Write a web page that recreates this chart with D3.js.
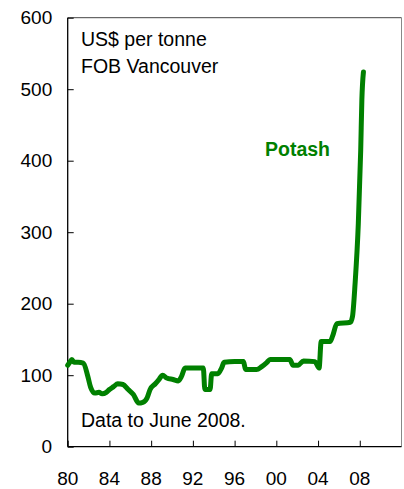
<!DOCTYPE html>
<html>
<head>
<meta charset="utf-8">
<script src="https://cdn.jsdelivr.net/npm/d3@7"></script>
<style>
  html, body { margin: 0; padding: 0; background: #fff; }
  svg { display: block; font-family: "Liberation Sans", Arial, sans-serif; }
  .tick-label { font-size: 19px; fill: #000; }
  .note { font-size: 19.5px; fill: #000; }
  .series-label { font-size: 19.5px; font-weight: bold; fill: #008000; }
</style>
</head>
<body>
<div id="chart"></div>
<script>
// Potash price, US$ per tonne, FOB Vancouver
const dates = [
  1980.0, 1980.2, 1980.4, 1980.6, 1981.0, 1981.5, 1981.9, 1982.2, 1982.6, 1983.0,
  1983.3, 1983.7, 1984.0, 1984.4, 1984.8, 1985.3, 1985.8, 1986.3, 1986.8, 1987.2,
  1987.6, 1987.9, 1988.4, 1988.7, 1989.1, 1989.5, 1990.1, 1990.6, 1990.9, 1991.25,
  1993.0, 1993.15, 1993.65, 1993.8, 1994.4, 1994.75, 1995.0, 1996.0, 1996.85, 1997.05,
  1998.1, 1998.6, 1999.1, 1999.4, 2001.3, 2001.6, 2002.1, 2002.6, 2003.7, 2004.1,
  2004.3, 2005.15, 2005.4, 2005.8, 2007.1, 2007.3, 2007.55, 2007.86, 2008.09, 2008.2,
  2008.35
];
const prices = [
  114, 118, 122, 118, 118, 117, 100, 83, 75, 76,
  74, 76, 80, 84, 88, 87, 80, 73, 61, 62,
  68, 80, 88, 93, 100, 96, 94, 92, 98, 110,
  110, 80, 80, 102, 102, 110, 118, 119, 119, 108,
  108, 112, 118, 122, 122, 114, 114, 120, 119, 110,
  147, 147, 155, 172, 174, 182, 228, 312, 415, 485,
  524
];
const xTickYears = [1980, 1984, 1988, 1992, 1996, 2000, 2004, 2008];
const xTickLabels = ["80", "84", "88", "92", "96", "00", "04", "08"];
const yTicks = [0, 100, 200, 300, 400, 500, 600];
const seriesName = "Potash";
const unitLines = ["US$ per tonne", "FOB Vancouver"];
const footNote = "Data to June 2008.";

const width = 404, height = 489;
const margin = { left: 67.7, right: 2.5, top: 17.7, bottom: 42.3 };
const innerW = width - margin.left - margin.right;
const innerH = height - margin.top - margin.bottom;

const svg = d3.select("#chart").append("svg")
  .attr("width", width)
  .attr("height", height);

const g = svg.append("g")
  .attr("transform", `translate(${margin.left},${margin.top})`);

const x = d3.scaleLinear().domain([1980, 2012]).range([0, innerW]);
const y = d3.scaleLinear().domain([0, 600]).range([innerH, 0]);

// frame: top and right lighter
g.append("line").attr("x1", 0).attr("x2", innerW).attr("y1", 0).attr("y2", 0)
  .attr("stroke", "#444").attr("stroke-width", 1);
g.append("line").attr("x1", innerW).attr("x2", innerW).attr("y1", 0).attr("y2", innerH)
  .attr("stroke", "#888").attr("stroke-width", 1);

// y axis (ticks point inward)
const yAxis = g.append("g")
  .call(d3.axisRight(y).tickValues(yTicks).tickSize(6).tickFormat(""));
yAxis.select(".domain").attr("d", `M0,0V${innerH}`).attr("stroke", "#000").attr("stroke-width", 1.3);
yAxis.selectAll(".tick line").attr("stroke", "#000");
yTicks.forEach(v => {
  g.append("text")
    .attr("class", "tick-label")
    .attr("x", -15.5)
    .attr("y", y(v))
    .attr("dy", "0.35em")
    .attr("text-anchor", "end")
    .text(v);
});

// x axis (ticks point up, inward)
const xAxis = g.append("g")
  .attr("transform", `translate(0,${innerH})`)
  .call(d3.axisTop(x).tickValues(xTickYears).tickSize(6).tickFormat(""));
xAxis.select(".domain").attr("d", `M0,0H${innerW}`).attr("stroke", "#000").attr("stroke-width", 1.3);
xAxis.selectAll(".tick line").attr("stroke", "#000");
xTickYears.forEach((yr, i) => {
  g.append("text")
    .attr("class", "tick-label")
    .attr("x", x(yr))
    .attr("y", innerH + 38.3)
    .attr("text-anchor", "middle")
    .text(xTickLabels[i]);
});

// series line
const data = dates.map((d, i) => ({ date: d, value: prices[i] }));
const line = d3.line().x(d => x(d.date)).y(d => y(d.value)).curve(d3.curveMonotoneX);
g.append("path")
  .datum(data)
  .attr("fill", "none")
  .attr("stroke", "#008000")
  .attr("stroke-width", 5)
  .attr("stroke-linejoin", "round")
  .attr("stroke-linecap", "round")
  .attr("d", line);

// labels
unitLines.forEach((t, i) => {
  g.append("text").attr("class", "note")
    .attr("x", 81 - margin.left)
    .attr("y", 45.7 - margin.top + i * 27.6)
    .text(t);
});
g.append("text").attr("class", "note")
  .attr("x", 81 - margin.left)
  .attr("y", 426.7 - margin.top)
  .text(footNote);
g.append("text").attr("class", "series-label")
  .attr("x", 265 - margin.left)
  .attr("y", 156 - margin.top)
  .text(seriesName);
</script>
</body>
</html>
